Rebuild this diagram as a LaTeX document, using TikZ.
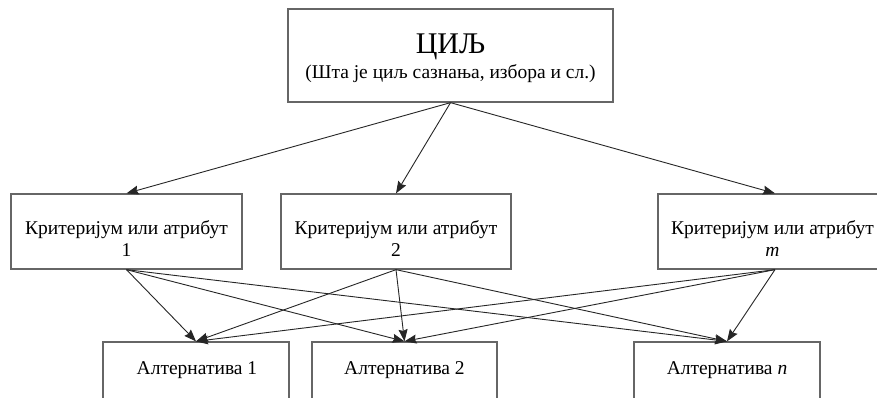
\documentclass[tikz,border=0pt]{standalone}
\usepackage{fontspec}
\setmainfont{Liberation Serif}
\usetikzlibrary{arrows.meta}
\definecolor{boxgray}{gray}{0.4}
\definecolor{linegray}{gray}{0.15}
\begin{document}
\begin{tikzpicture}[x=1pt,y=-1pt,
  box/.style={draw=boxgray, line width=1.3pt, inner sep=0pt, fill=white},
  critbox/.style={box, minimum height=75pt},
  altbox/.style={box, minimum height=80pt},
  txt/.style={anchor=base, inner sep=0pt, text=black, font=\fontsize{19.5}{22}\selectfont},
  link/.style={draw=linegray, line width=0.9pt, -{Stealth[length=12pt,width=9pt,inset=1.5pt]}}
]
\useasboundingbox (0,0) rectangle (877,397);
\clip (0,0) rectangle (877,397);
\fill[white] (0,0) rectangle (877,397);

% goal
\node[box, minimum width=325pt, minimum height=93pt] (goal) at (450.5,55.5) {};
\node[txt, font=\fontsize{30}{30}\selectfont] (goaltitle) at (450.5,53) {ЦИЉ};
\node[txt] (goalsub) at (450.5,78) {(Шта је циљ сазнања, избора и сл.)};

% criteria
\node[critbox, minimum width=231pt] (c1) at (126.5,231.5) {};
\node[critbox, minimum width=230pt] (c2) at (396,231.5) {};
\node[critbox, minimum width=234pt] (cm) at (775,231.5) {};
\node[txt] (c1a) at (126.5,234) {Критеријум или атрибут};
\node[txt] (c1b) at (126.5,256) {1};
\node[txt] (c2a) at (396,234) {Критеријум или атрибут};
\node[txt] (c2b) at (396,256) {2};
\node[txt] (cma) at (772.5,234) {Критеријум или атрибут};
\node[txt] (cmb) at (772.5,256) {\itshape m};

% alternatives
\node[altbox, minimum width=186pt] (a1) at (196,382) {};
\node[altbox, minimum width=185pt] (a2) at (404.5,382) {};
\node[altbox, minimum width=186pt] (an) at (727,382) {};
\node[txt] (a1t) at (197,374) {Алтернатива 1};
\node[txt] (a2t) at (404.5,374) {Алтернатива 2};
\node[txt] (ant) at (727,374) {Алтернатива \itshape n};

% goal to criteria
\foreach \c in {c1,c2,cm}
  \draw[link] (goal.south) -- (\c.north);

% criteria to alternatives
\foreach \c in {c1,c2,cm}
  \foreach \a in {a1,a2,an}
    \draw[link] (\c.south) -- (\a.north);
\end{tikzpicture}
\end{document}
